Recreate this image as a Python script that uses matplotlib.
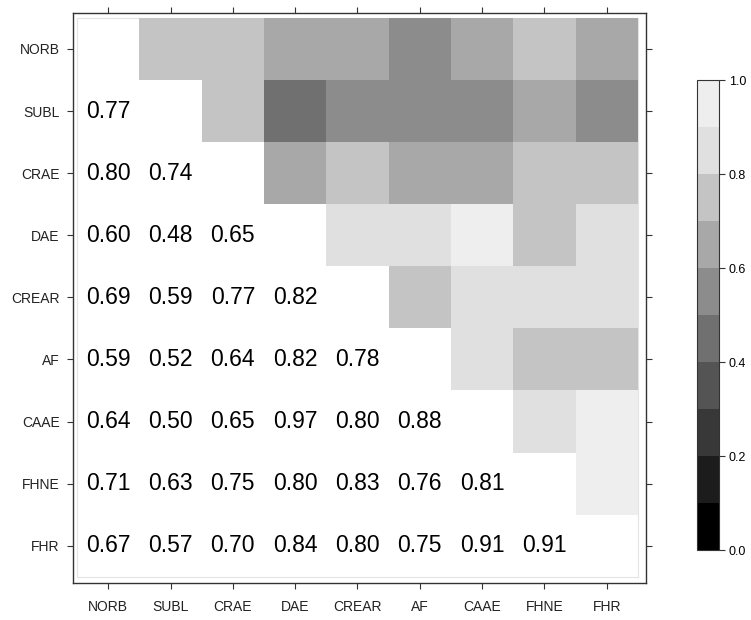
import numpy as np
import matplotlib
matplotlib.use('Agg')
import matplotlib.pyplot as plt
from matplotlib.colors import ListedColormap, BoundaryNorm
from matplotlib.patches import Rectangle

plt.rcParams['font.family'] = ['Liberation Sans', 'DejaVu Sans']

labels = ['NORB', 'SUBL', 'CRAE', 'DAE', 'CREAR', 'AF', 'CAAE', 'FHNE', 'FHR']

# lower-triangle correlations, one row per variable
rows = [
    [],
    [0.77],
    [0.796, 0.74],
    [0.60, 0.48, 0.65],
    [0.69, 0.59, 0.77, 0.82],
    [0.59, 0.52, 0.64, 0.82, 0.78],
    [0.64, 0.50, 0.65, 0.97, 0.80, 0.88],
    [0.71, 0.63, 0.75, 0.796, 0.83, 0.76, 0.81],
    [0.67, 0.57, 0.70, 0.84, 0.80, 0.75, 0.91, 0.91],
]

grays = ['#000000', '#1c1c1c', '#383838', '#545454', '#707070',
         '#8c8c8c', '#a8a8a8', '#c4c4c4', '#e0e0e0', '#eeeeee']
bounds = np.round(np.linspace(0, 1, 11), 2)
cbar_ticks = [0.0, 0.2, 0.4, 0.6, 0.8, 1.0]

n = len(labels)
corr = np.full((n, n), np.nan)
for i, r in enumerate(rows):
    for j, v in enumerate(r):
        corr[i, j] = v
        corr[j, i] = v

# colour only the upper triangle
upper = np.ma.masked_where(np.tril(np.ones((n, n), dtype=bool)), corr)

cmap = ListedColormap(grays)
norm = BoundaryNorm(bounds, cmap.N)

fig = plt.figure(figsize=(7.51, 6.2), dpi=100)
ax = fig.add_axes([0.0972, 0.0597, 0.763, 0.920])
mesh = ax.pcolormesh(np.arange(n + 1) - 0.5, np.arange(n + 1) - 0.5, upper,
                     cmap=cmap, norm=norm, shading='flat')
ax.add_patch(Rectangle((-0.5, -0.5), n, n, fill=False, ec='#e4e4e4', lw=0.8, zorder=0.5))

for i in range(n):
    for j in range(i):
        ax.text(j, i, f'{corr[i, j]:.2f}', ha='center', va='center', fontsize=16.5)

ax.set_xlim(-0.565, n - 0.37)
ax.set_ylim(n - 0.4, -0.585)
ax.set_xticks(range(n))
ax.set_yticks(range(n))
ax.set_xticklabels(labels, fontsize=10, color='#222222')
ax.set_yticklabels(labels, fontsize=10, color='#222222')
ax.tick_params(direction='out', length=4.5, width=0.8, color='#333333',
               top=True, right=True)
ax.tick_params(axis='y', pad=5)
ax.tick_params(axis='x', pad=8)
for s in ax.spines.values():
    s.set_linewidth(1.0)
    s.set_color('#333333')

cax = fig.add_axes([0.928, 0.1129, 0.0293, 0.758])
cb = fig.colorbar(mesh, cax=cax, ticks=cbar_ticks, format='%.1f')
cb.ax.minorticks_off()
cb.ax.tick_params(labelsize=9, length=4, width=0.8, color='#333333', pad=3)
cb.outline.set_linewidth(0.8)
cb.outline.set_edgecolor('#333333')

fig.savefig('out.png', dpi=100)
